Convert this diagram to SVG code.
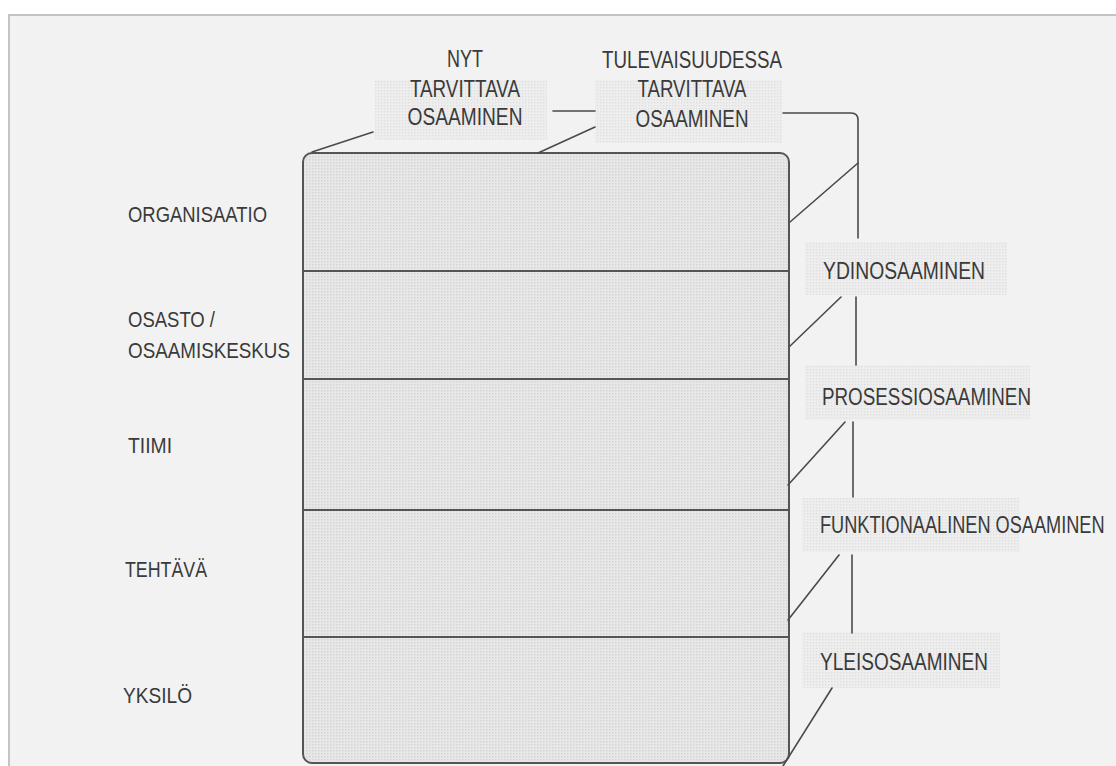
<svg xmlns="http://www.w3.org/2000/svg" width="1116" height="766" viewBox="0 0 1116 766">
  <defs>
    <!-- halftone screen used for the shaded areas -->
    <pattern id="screen" width="3" height="3" patternUnits="userSpaceOnUse">
      <rect width="3" height="3" fill="#e8e8e8"/>
      <rect x="0" y="0" width="1.5" height="1.5" fill="#d4d4d4"/>
    </pattern>
    <pattern id="screenLight" width="3" height="3" patternUnits="userSpaceOnUse">
      <rect width="3" height="3" fill="#eeeeee"/>
      <rect x="0" y="0" width="1.3" height="1.3" fill="#dedede"/>
    </pattern>
    <style>
      text { font-family: "Liberation Sans", Arial, sans-serif; font-size: 23px; fill: #3a3a3a; }
      .lvl { font-size: 22px; }
      .mid { text-anchor: middle; }
      .line { fill: none; stroke: #4a4a4a; stroke-width: 1.6; stroke-linecap: round; stroke-linejoin: round; }
      .sep { stroke: #555555; stroke-width: 2; }
      .tag { fill: url(#screenLight); }
    </style>
  </defs>

  <!-- page -->
  <rect width="1116" height="766" fill="#ffffff"/>
  <rect x="9" y="15" width="1107" height="751" fill="#f2f2f2"/>
  <path d="M9 766 V15 H1116" fill="none" stroke="#c4c4c4" stroke-width="2"/>

  <!-- main stacked block -->
  <g id="block">
    <rect x="303" y="153" width="486" height="610" rx="9" fill="url(#screen)" stroke="#555555" stroke-width="2"/>
    <line class="sep" x1="304" y1="271" x2="788" y2="271"/>
    <line class="sep" x1="304" y1="379" x2="788" y2="379"/>
    <line class="sep" x1="304" y1="510" x2="788" y2="510"/>
    <line class="sep" x1="304" y1="637" x2="788" y2="637"/>
  </g>

  <!-- level labels -->
  <g id="level-organisaatio"><text class="lvl" x="128" y="222" textLength="139" lengthAdjust="spacingAndGlyphs">ORGANISAATIO</text></g>
  <g id="level-osasto">
    <text class="lvl" x="128" y="327" textLength="87" lengthAdjust="spacingAndGlyphs">OSASTO /</text>
    <text class="lvl" x="128" y="358" textLength="162" lengthAdjust="spacingAndGlyphs">OSAAMISKESKUS</text>
  </g>
  <g id="level-tiimi"><text class="lvl" x="128" y="453" textLength="44" lengthAdjust="spacingAndGlyphs">TIIMI</text></g>
  <g id="level-tehtava"><text class="lvl" x="125" y="577" textLength="82" lengthAdjust="spacingAndGlyphs">TEHTÄVÄ</text></g>
  <g id="level-yksilo"><text class="lvl" x="123" y="703" textLength="69" lengthAdjust="spacingAndGlyphs">YKSILÖ</text></g>

  <!-- top headings -->
  <g id="nyt">
    <rect class="tag" x="375" y="80" width="172" height="60"/>
    <text class="mid" x="465" y="67" textLength="36" lengthAdjust="spacingAndGlyphs">NYT</text>
    <text class="mid" x="465" y="97" textLength="110" lengthAdjust="spacingAndGlyphs">TARVITTAVA</text>
    <text class="mid" x="465" y="125" textLength="115" lengthAdjust="spacingAndGlyphs">OSAAMINEN</text>
  </g>
  <g id="tulevaisuudessa">
    <rect class="tag" x="595" y="80" width="187" height="63"/>
    <text class="mid" x="692" y="68" textLength="180" lengthAdjust="spacingAndGlyphs">TULEVAISUUDESSA</text>
    <text class="mid" x="692" y="97" textLength="109" lengthAdjust="spacingAndGlyphs">TARVITTAVA</text>
    <text class="mid" x="692" y="127" textLength="113" lengthAdjust="spacingAndGlyphs">OSAAMINEN</text>
  </g>

  <!-- competence types -->
  <g id="ydinosaaminen">
    <rect class="tag" x="805" y="242" width="202" height="53"/>
    <text x="823" y="279" textLength="162" lengthAdjust="spacingAndGlyphs">YDINOSAAMINEN</text>
  </g>
  <g id="prosessiosaaminen">
    <rect class="tag" x="805" y="365" width="225" height="55"/>
    <text x="822" y="405" textLength="209" lengthAdjust="spacingAndGlyphs">PROSESSIOSAAMINEN</text>
  </g>
  <g id="funktionaalinen">
    <rect class="tag" x="802" y="498" width="218" height="54"/>
    <!-- condensed horizontally so the long label stays on the page -->
    <text transform="translate(820 533) scale(0.79 1)" x="0" y="0">FUNKTIONAALINEN OSAAMINEN</text>
  </g>
  <g id="yleisosaaminen">
    <rect class="tag" x="802" y="632" width="198" height="56"/>
    <text x="820" y="670" textLength="168" lengthAdjust="spacingAndGlyphs">YLEISOSAAMINEN</text>
  </g>

  <!-- connectors -->
  <g id="connectors">
    <line class="line" x1="312" y1="152" x2="373" y2="132"/>
    <line class="line" x1="538" y1="153" x2="595" y2="127"/>
    <line class="line" x1="553" y1="111" x2="595" y2="111"/>
    <path class="line" d="M783 113 H851 Q858 113 858 120 V238"/>
    <line class="line" x1="858" y1="163" x2="790" y2="222"/>
    <line class="line" x1="841" y1="297" x2="789" y2="347"/>
    <line class="line" x1="856" y1="297" x2="856" y2="365"/>
    <line class="line" x1="845" y1="422" x2="788" y2="485"/>
    <line class="line" x1="853" y1="422" x2="853" y2="497"/>
    <line class="line" x1="839" y1="555" x2="788" y2="620"/>
    <line class="line" x1="852" y1="555" x2="852" y2="633"/>
    <line class="line" x1="832" y1="688" x2="783" y2="766"/>
  </g>
</svg>
